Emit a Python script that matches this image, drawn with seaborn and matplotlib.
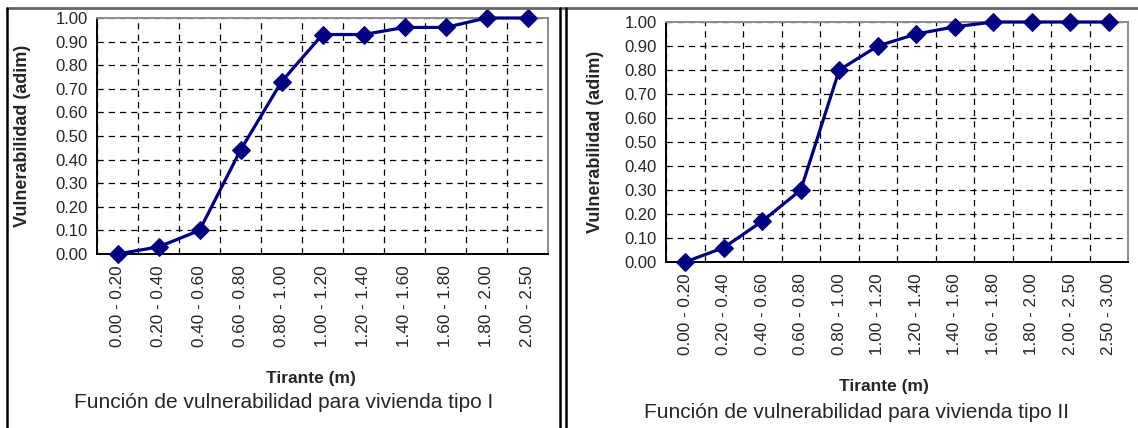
import numpy as np
import pandas as pd
import matplotlib
matplotlib.use("Agg")
import matplotlib.pyplot as plt
import seaborn as sns
from matplotlib.lines import Line2D
from matplotlib.ticker import FixedLocator

# data
rangos_1 = ["0.00 - 0.20", "0.20 - 0.40", "0.40 - 0.60", "0.60 - 0.80", "0.80 - 1.00",
            "1.00 - 1.20", "1.20 - 1.40", "1.40 - 1.60", "1.60 - 1.80", "1.80 - 2.00",
            "2.00 - 2.50"]
vuln_1 = [0.00, 0.03, 0.10, 0.44, 0.73, 0.93, 0.93, 0.96, 0.96, 1.00, 1.00]

rangos_2 = ["0.00 - 0.20", "0.20 - 0.40", "0.40 - 0.60", "0.60 - 0.80", "0.80 - 1.00",
            "1.00 - 1.20", "1.20 - 1.40", "1.40 - 1.60", "1.60 - 1.80", "1.80 - 2.00",
            "2.00 - 2.50", "2.50 - 3.00"]
vuln_2 = [0.00, 0.06, 0.17, 0.30, 0.80, 0.90, 0.95, 0.98, 1.00, 1.00, 1.00, 1.00]

y_ticks = [0.0, 0.1, 0.2, 0.3, 0.4, 0.5, 0.6, 0.7, 0.8, 0.9, 1.0]

sns.set_style("white")
plt.rcParams['font.family'] = ['Liberation Sans', 'DejaVu Sans']

W, H = 1138, 428
fig = plt.figure(figsize=(11.38, 4.28), dpi=100)


def draw_panel(rect, rangos, vuln, caption, xlab_xy, cap_xy, ylab_x):
    ax = fig.add_axes(rect)
    df = pd.DataFrame({"rango": rangos, "vuln": vuln})
    df["pos"] = np.arange(len(df))
    sns.lineplot(data=df, x="pos", y="vuln", ax=ax, color="#000080", linewidth=2.3,
                 marker="D", markersize=9.5, markeredgecolor="#000080", clip_on=False,
                 zorder=5)
    n = len(rangos)
    ax.set_xlim(-0.5, n - 0.5)
    ax.set_ylim(0, 1)
    ax.set_xticks(np.arange(n))
    ax.set_xticklabels(rangos, rotation=90, fontsize=12.3)
    ax.xaxis.set_minor_locator(FixedLocator(np.arange(n + 1) - 0.5))
    ax.set_yticks(y_ticks)
    ax.set_yticklabels([f"{v:.2f}" for v in y_ticks], fontsize=12)
    ax.tick_params(axis="x", which="major", length=0, pad=8)
    ax.tick_params(axis="x", which="minor", length=5, width=1.2, direction="inout", color="black")
    ax.tick_params(axis="y", length=7, width=1.2, direction="inout", color="black", pad=3)
    ax.grid(False)
    ax.grid(which="minor", axis="x", color="black", linestyle=(0, (5, 4)), linewidth=0.9)
    ax.grid(which="major", axis="y", color="black", linestyle=(0, (5, 4)), linewidth=0.9)
    ax.set_axisbelow(True)
    for s in ["left", "bottom"]:
        ax.spines[s].set_color("black")
        ax.spines[s].set_linewidth(1.4)
    for s in ["top", "right"]:
        ax.spines[s].set_color("#8c8c8c")
        ax.spines[s].set_linewidth(1.4)
    ax.set_xlabel("")
    ax.set_ylabel("Vulnerabilidad (adim)", fontsize=13, fontweight="bold")
    ax.yaxis.set_label_coords(ylab_x, 0.5 * (2 * rect[1] + rect[3]), transform=fig.transFigure)
    fig.text(xlab_xy[0] / W, 1 - xlab_xy[1] / H, "Tirante (m)", ha="center", va="center",
             fontsize=12.5, fontweight="bold")
    fig.text(cap_xy[0] / W, 1 - cap_xy[1] / H, caption, ha="center", va="center", fontsize=15)
    return ax


draw_panel([97 / W, 1 - 254 / H, 451 / W, 236 / H], rangos_1, vuln_1,
           "Función de vulnerabilidad para vivienda tipo I",
           (311, 378), (284, 403), 31 / W)
draw_panel([666 / W, 1 - 262 / H, 462 / W, 240 / H], rangos_2, vuln_2,
           "Función de vulnerabilidad para vivienda tipo II",
           (884, 387), (856, 413), 604 / W)

# page frame lines
fig.add_artist(Line2D([7 / W, 1], [1 - 8 / H, 1 - 8 / H], transform=fig.transFigure,
                      color="#666666", linewidth=2))
for xp in [7, 560, 566]:
    fig.add_artist(Line2D([xp / W, xp / W], [0, 1 - 8 / H], transform=fig.transFigure,
                          color="black", linewidth=1.8))

fig.savefig("out.png", dpi=100)
